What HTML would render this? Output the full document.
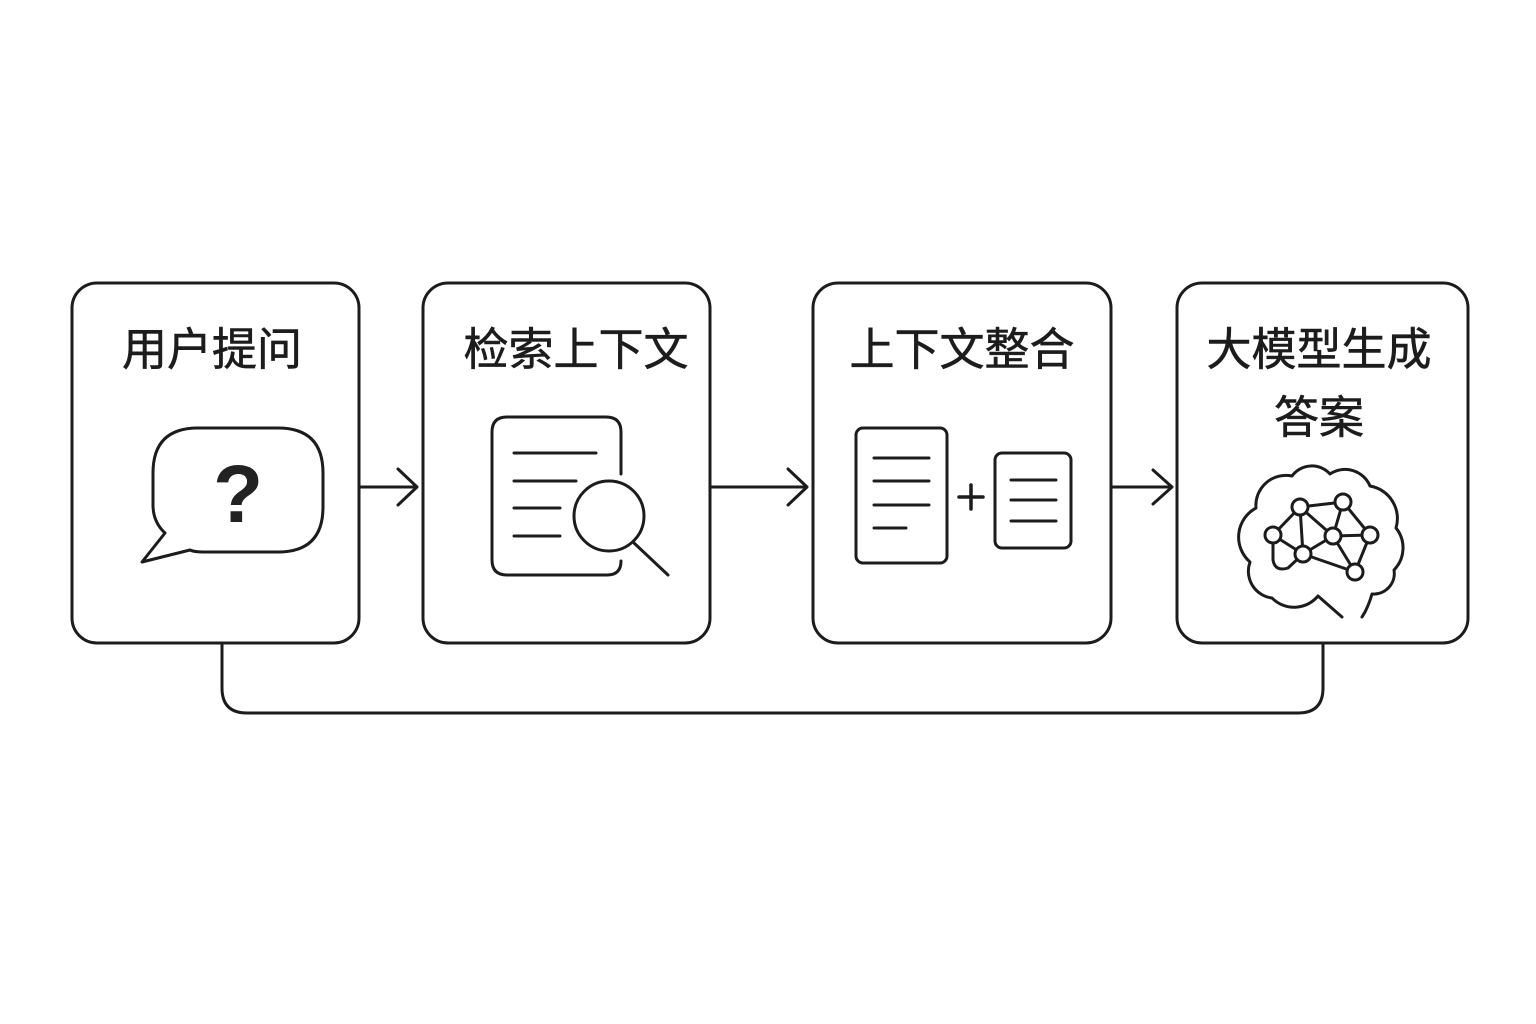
<!DOCTYPE html>
<html><head><meta charset="utf-8"><style>
html,body{margin:0;padding:0;background:#fff;}
svg{display:block;}
text{font-family:"Liberation Sans","Noto Sans CJK SC",sans-serif;}
</style></head><body>
<svg width="1536" height="1024" viewBox="0 0 1536 1024" xmlns="http://www.w3.org/2000/svg">
<rect width="1536" height="1024" fill="#fff"/>
<g fill="none" stroke="#1c1c1c" stroke-width="3" stroke-linecap="round" stroke-linejoin="round">
  <!-- boxes -->
  <rect x="72" y="283" width="287" height="360" rx="25"/>
  <rect x="423" y="283" width="287" height="360" rx="25"/>
  <rect x="813" y="283" width="298" height="360" rx="25"/>
  <rect x="1177" y="283" width="291" height="360" rx="25"/>
  <!-- arrows -->
  <path d="M360 487 H417 M398 469 L417 487 L398 505"/>
  <path d="M710 487 H807 M788 469 L807 487 L788 505"/>
  <path d="M1112 487 H1172 M1153 470 L1172 487 L1153 504"/>
  <!-- bottom connector -->
  <path d="M222 644 V688 Q222 713 247 713 H1298 Q1323 713 1323 688 V644"/>
  <!-- speech bubble -->
  <path d="M165 533 L142 562 L190 550 Q194 552 205 552 H278 Q323 552 323 507 V473 Q323 428 278 428 H198 Q153 428 153 473 V505 Q153 522 165 533 Z"/>
  <!-- doc with magnifier -->
  <path d="M621 474 V432 Q621 417 606 417 H507 Q492 417 492 432 V560 Q492 575 507 575 H607 Q621 575 621 561"/>
  <path d="M514 453 H596 M514 481 H576 M514 508 H560 M514 536 H560"/>
  <circle cx="609" cy="516" r="35"/>
  <path d="M634 543 L668 575"/>
  <!-- two docs -->
  <rect x="856" y="428" width="91" height="135" rx="7"/>
  <path d="M874 458 H929 M874 481 H929 M874 505 H929 M874 528 H906"/>
  <path d="M971 485 V509 M959 497 H983" stroke-width="3.5"/>
  <rect x="995" y="453" width="76" height="95" rx="7"/>
  <path d="M1011 480 H1056 M1011 500 H1056 M1011 521 H1056"/>
  <!-- brain cloud -->
  <path d="M1342 617 L1318 596 A31 31 0 0 1 1272 598 A27 27 0 0 1 1250 562 A33 33 0 0 1 1256 508 A30 30 0 0 1 1292 476 A24.5 24.5 0 0 1 1330 474 A27 27 0 0 1 1370 486 A33 33 0 0 1 1396 528 A31.6 31.6 0 0 1 1394 570 A20.6 20.6 0 0 1 1372 594 Q1368 608 1362 617"/>
  <!-- network edges -->
  <path d="M1300 507 L1343 502 M1300 507 L1273 535 M1300 507 L1303 554 M1300 507 L1333 536 M1273 535 L1303 554 M1303 554 L1333 536 M1343 502 L1333 536 M1343 502 L1370 535 M1333 536 L1370 535 M1333 536 L1355 572 M1370 535 L1355 572 M1303 554 L1355 572 M1273 535 V560 Q1275 572 1288 568 L1303 554"/>
  <g fill="#fff">
    <circle cx="1300" cy="507" r="8"/>
    <circle cx="1343" cy="502" r="8"/>
    <circle cx="1273" cy="535" r="8"/>
    <circle cx="1333" cy="536" r="8"/>
    <circle cx="1370" cy="535" r="8"/>
    <circle cx="1303" cy="554" r="8"/>
    <circle cx="1355" cy="572" r="8"/>
  </g>
</g>
<!-- question mark -->
<text x="238" y="522" font-size="82" font-weight="bold" text-anchor="middle" fill="#222">?</text>
<!-- titles -->
<g fill="#1c1c1c" stroke="#1c1c1c" stroke-width="0.6" font-size="45" text-anchor="middle">
  <text x="212" y="365">用户提问</text>
  <text x="576" y="365">检索上下文</text>
  <text x="962" y="365">上下文整合</text>
  <text x="1319" y="365">大模型生成</text>
  <text x="1319" y="433">答案</text>
</g>
</svg>
</body></html>
